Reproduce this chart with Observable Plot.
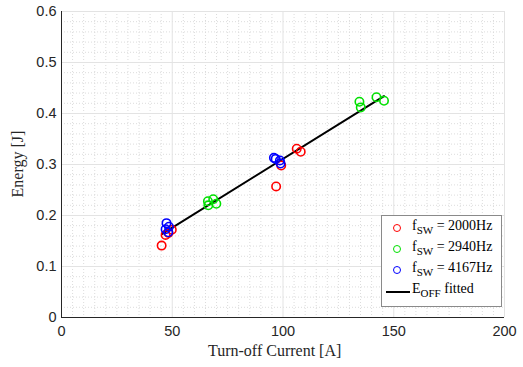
<!DOCTYPE html>
<html><head>
<meta charset="utf-8">
<script src="https://cdn.jsdelivr.net/npm/d3@7"></script>
<script src="https://cdn.jsdelivr.net/npm/@observablehq/plot@0.6"></script>
<style>
body{margin:0;background:#fff}
#wrap{position:relative;width:523px;height:367px;overflow:hidden}
.ttl{position:absolute;font-family:"Liberation Serif","Times New Roman",serif;font-size:16px;color:#262626;white-space:nowrap}
#legend{position:absolute;left:381px;top:215px;width:119px;height:90px;border:1px solid #8a8a8a;background:#fff;font-family:"Liberation Serif",serif;font-size:14px;color:#000}
#legend .row{position:absolute;left:0;height:20px;line-height:20px;white-space:nowrap}
#legend .mk{position:absolute;left:11px;top:6px;width:6px;height:6px;border-radius:50%;border:1.5px solid}
#legend .ln{position:absolute;left:4px;top:10px;width:24px;height:0;border-top:2px solid #000}
#legend .tx{position:absolute;left:30px;top:-2px}
#legend sub{font-size:11px;vertical-align:-4px;line-height:0}
</style>
</head><body>
<div id="wrap"></div>
<script>
// Data
const current2000 = [45.2, 47.0, 48.3, 49.8, 96.9, 99.2, 106.2, 108.0];
const energy2000  = [0.141, 0.162, 0.166, 0.172, 0.257, 0.298, 0.331, 0.325];
const current2940 = [66.1, 66.3, 68.5, 69.9, 134.5, 135.1, 142.2, 145.6];
const energy2940  = [0.228, 0.220, 0.232, 0.223, 0.423, 0.412, 0.432, 0.425];
const current4167 = [47.4, 47.0, 48.5, 48.2, 95.9, 96.7, 98.6, 98.9];
const energy4167  = [0.185, 0.173, 0.178, 0.167, 0.313, 0.311, 0.308, 0.302];
const fitCurrent  = [45.5, 145.6];
const fitEnergy   = [0.164, 0.434];
const seriesNames = ["2000Hz", "2940Hz", "4167Hz"];
const seriesColors = ["#ff0000", "#00e000", "#0000ff"];
const xTicks = [0, 50, 100, 150, 200];
const yTicks = [0, 0.1, 0.2, 0.3, 0.4, 0.5, 0.6];

const pts = [];
[[current2000, energy2000], [current2940, energy2940], [current4167, energy4167]].forEach(([cx, ey], k) => {
  cx.forEach((c, i) => pts.push({current: c, energy: ey[i], series: seriesNames[k]}));
});
const fit = fitCurrent.map((c, i) => ({current: c, energy: fitEnergy[i]}));
const xMinor = d3.range(0, 201, 5).filter(v => v % 50 !== 0);
const yMinor = d3.range(0, 0.6001, 0.02).map(v => +v.toFixed(2)).filter(v => Math.round(v * 100) % 10 !== 0);

const chart = Plot.plot({
  width: 523, height: 367,
  marginLeft: 61, marginRight: 19, marginTop: 11, marginBottom: 50,
  style: {fontFamily: "'Liberation Sans', Arial, sans-serif", background: "#fff"},
  x: {domain: [0, 200]},
  y: {domain: [0, 0.6]},
  color: {domain: seriesNames, range: seriesColors},
  marks: [
    Plot.ruleX(xMinor, {stroke: "#dcdcdc", strokeDasharray: "1,2", strokeWidth: 1}),
    Plot.ruleY(yMinor, {stroke: "#dcdcdc", strokeDasharray: "1,2", strokeWidth: 1}),
    Plot.ruleX(xTicks, {stroke: "#e3e3e3", strokeWidth: 1}),
    Plot.ruleY(yTicks, {stroke: "#e3e3e3", strokeWidth: 1}),
    Plot.axisX({ticks: xTicks, tickSize: 0, tickPadding: 8, fontSize: 14.5, fill: "#262626", label: null, tickFormat: d => String(d)}),
    Plot.axisY({ticks: yTicks, tickSize: 0, tickPadding: 5, fontSize: 14.5, fill: "#262626", label: null, tickFormat: d => d === 0 ? "0" : d.toFixed(1)}),
    Plot.ruleX([0], {stroke: "#262626", strokeWidth: 1}),
    Plot.ruleY([0], {stroke: "#262626", strokeWidth: 1}),
    Plot.line(fit, {x: "current", y: "energy", stroke: "#000", strokeWidth: 2}),
    Plot.dot(pts, {x: "current", y: "energy", stroke: "series", r: 4.2, strokeWidth: 1.6, fill: "none"})
  ]
});
const wrap = document.getElementById("wrap");
wrap.appendChild(chart);

const xt = document.createElement("div");
xt.className = "ttl"; xt.textContent = "Turn-off Current [A]";
xt.style.left = "208px"; xt.style.top = "342px";
wrap.appendChild(xt);
const yt = document.createElement("div");
yt.className = "ttl"; yt.textContent = "Energy [J]";
yt.style.left = "18px"; yt.style.top = "164px";
yt.style.transform = "translate(-50%,-50%) rotate(-90deg)";
wrap.appendChild(yt);

const lg = document.createElement("div");
lg.id = "legend";
let html = "";
seriesNames.forEach((n, i) => {
  html += `<div class="row" style="top:${2 + i * 21}px"><span class="mk" style="border-color:${seriesColors[i]}"></span><span class="tx">f<sub>SW</sub> = ${n}</span></div>`;
});
html += `<div class="row" style="top:${2 + 3 * 21}px"><span class="ln"></span><span class="tx">E<sub>OFF</sub> fitted</span></div>`;
lg.innerHTML = html;
wrap.appendChild(lg);
</script>
</body></html>
